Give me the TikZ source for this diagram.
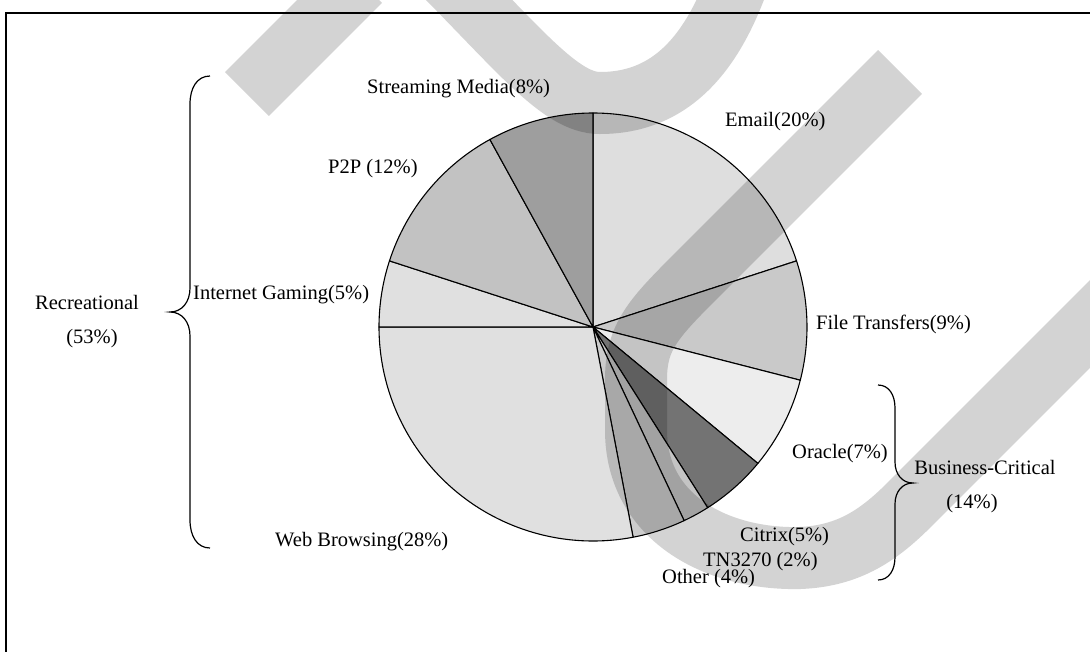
\documentclass[tikz,border=0pt]{standalone}
\usepackage{fontspec}
\setmainfont{Liberation Serif}
\begin{document}
\begin{tikzpicture}[x=1pt,y=-1pt,
  lbl/.style={inner sep=0pt,anchor=base west,font=\fontsize{20.5}{24}\selectfont},
  lblc/.style={inner sep=0pt,anchor=base,font=\fontsize{20.5}{24}\selectfont},
  slice/.style={draw=black,line width=1.1pt,line join=round},
  bracepath/.style={draw=black,line width=1.2pt},
  band/.style={draw=black,opacity=0.173,line width=62pt,line cap=butt}]
\useasboundingbox (0,0) rectangle (1090,651);

% slice shades
\definecolor{cEmail}{gray}{0.87}
\definecolor{cFile}{gray}{0.79}
\definecolor{cOracle}{gray}{0.93}
\definecolor{cCitrix}{gray}{0.45}
\definecolor{cTN}{gray}{0.77}
\definecolor{cOther}{gray}{0.80}
\definecolor{cWeb}{gray}{0.88}
\definecolor{cGame}{gray}{0.88}
\definecolor{cPP}{gray}{0.76}
\definecolor{cStream}{gray}{0.62}

\coordinate (C) at (593,327);
\def\R{214}

% pie slices, clockwise from the top; start/end in percent
\foreach \a/\b/\c in {0/20/cEmail,20/29/cFile,29/36/cOracle,36/41/cCitrix,
  41/43/cTN,43/47/cOther,47/75/cWeb,75/80/cGame,80/92/cPP,92/100/cStream}{
  \pgfmathsetmacro\sa{-90+3.6*\a}
  \pgfmathsetmacro\ea{-90+3.6*\b}
  \path[slice,fill=\c] (C) -- ++(\sa:\R) arc[start angle=\sa,end angle=\ea,radius=\R] -- cycle;
}

% labels
\node[lbl] (stream) at (367,93) {Streaming Media(8\%)};
\node[lbl] (email) at (725,126) {Email(20\%)};
\node[lbl] (p2p) at (328,173) {P2P (12\%)};
\node[lbl] (game) at (193,299) {Internet Gaming(5\%)};
\node[lbl] (file) at (816,329) {File Transfers(9\%)};
\node[lbl] (web) at (275,546) {Web Browsing(28\%)};
\node[lbl] (oracle) at (792,458) {Oracle(7\%)};
\node[lbl] (citrix) at (740,541) {Citrix(5\%)};
\node[lbl] (tn) at (703,566) {TN3270 (2\%)};
\node[lbl] (other) at (662,583) {Other (4\%)};
\node[lblc] (rec) at (87,309) {Recreational};
\node[lblc] (recp) at (92,343) {(53\%)};
\node[lblc] (bus) at (985,474) {Business-Critical};
\node[lblc] (busp) at (972,508) {(14\%)};

% braces
\path[bracepath] (210,76) .. controls (197,76) and (190,88) .. (190,104)
  -- (190,288) .. controls (190,302) and (182,312) .. (170,312)
  .. controls (182,312) and (190,322) .. (190,336)
  -- (190,520) .. controls (190,536) and (197,548) .. (210,548);
\path[bracepath] (878,385) .. controls (889,385) and (895,395) .. (895,408)
  -- (895,462) .. controls (895,474) and (902,483) .. (913,483)
  .. controls (902,483) and (895,492) .. (895,504)
  -- (895,557) .. controls (895,570) and (889,580) .. (878,580);

% frame
\draw[line width=1.4pt] (6,660) -- (6,13) -- (1100,13);

% grey bands
\begin{scope}
\clip (0,0) rectangle (1090,651);
\path[band] (247,94) -- (360,-19);
\path[band] (430,-40) .. controls (520,50) and (560,103) .. (600,103)
  .. controls (680,103) and (720,40) .. (745,-40);
\path[band] (900,72) -- (690,282) .. controls (650,322) and (636,340) .. (636,380)
  -- (636,430) .. controls (636,520) and (720,560) .. (800,558)
  .. controls (850,556) and (880,534) .. (910,504) -- (1200,214);
\end{scope}
\end{tikzpicture}
\end{document}
